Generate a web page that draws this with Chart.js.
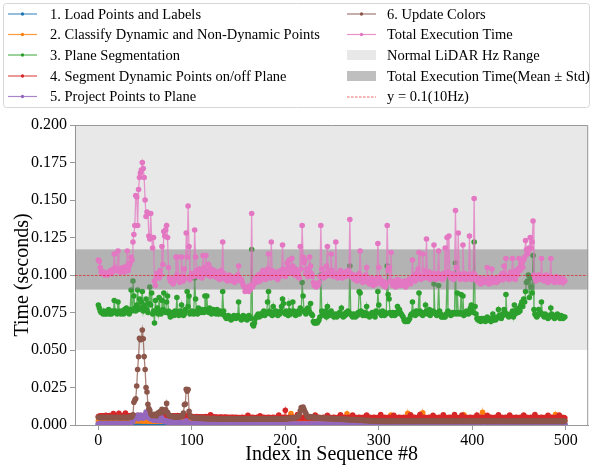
<!DOCTYPE html>
<html>
<head>
<meta charset="utf-8">
<script src="https://cdn.jsdelivr.net/npm/chart.js@4.4.1/dist/chart.umd.min.js"></script>
<style>html,body{margin:0;padding:0;background:#fff}</style>
</head>
<body>
<canvas id="chart_stageTiming" width="591" height="467"></canvas>
<script>
// per-frame timings in milliseconds, frame index 0..499
const LOAD_MS = [
.4,.5,.4,.4,.3,.4,.5,.4,.4,.3,.4,.4,.5,.4,.3,.4,.4,.5,.4,.4,.3,.4,.5,.4,.4,
.4,.3,.4,.5,.4,.4,.3,.4,.4,.5,.4,.6,.5,.7,.6,.8,.7,.6,.8,.7,.6,.7,.6,.5,.6,
.7,.6,.5,.6,.5,.4,.5,.4,.5,.4,.4,.5,.4,.4,.5,.4,.4,.3,.4,.5,.4,.4,.3,.4,.4,
.5,.4,.4,.3,.4,.4,.5,.4,.4,.3,.4,.5,.4,.4,.4,.3,.4,.5,.4,.4,.5,.4,.3,.4,.4,
.4,.3,.4,.4,.5,.4,.3,.4,.4,.3,.4,.5,.4,.4,.3,.4,.4,.5,.4,.3,.4,.4,.3,.4,.5,
.4,.4,.3,.4,.5,.4,.4,.3,.4,.4,.5,.4,.3,.4,.4,.3,.4,.5,.4,.4,.3,.4,.4,.5,.4,
.3,.4,.4,.5,.4,.3,.4,.4,.3,.4,.5,.4,.4,.3,.4,.4,.5,.4,.3,.4,.4,.3,.4,.5,.4,
.4,.3,.4,.4,.5,.4,.4,.3,.4,.5,.4,.3,.4,.4,.3,.4,.5,.4,.4,.3,.4,.4,.5,.4,.3,
.4,.5,.4,.3,.4,.4,.3,.4,.5,.4,.4,.3,.4,.4,.5,.4,.3,.4,.4,.3,.4,.5,.4,.4,.3,
.4,.4,.5,.4,.3,.4,.4,.3,.4,.5,.4,.4,.3,.4,.4,.5,.4,.3,.4,.4,.3,.4,.5,.4,.4,
.3,.4,.4,.5,.4,.3,.4,.4,.3,.4,.5,.4,.4,.3,.4,.4,.5,.4,.3,.4,.4,.3,.4,.5,.4,
.4,.3,.4,.4,.5,.4,.4,.3,.4,.5,.4,.3,.4,.4,.3,.4,.5,.4,.4,.3,.4,.4,.5,.4,.3,
.4,.5,.4,.3,.4,.4,.3,.4,.5,.4,.4,.3,.4,.4,.5,.4,.3,.4,.4,.3,.4,.5,.4,.4,.3,
.4,.4,.5,.4,.3,.4,.4,.3,.4,.5,.4,.4,.3,.4,.4,.5,.4,.3,.4,.4,.3,.4,.5,.4,.4,
.3,.4,.4,.5,.4,.3,.4,.4,.3,.4,.5,.4,.4,.3,.4,.4,.5,.4,.3,.4,.4,.3,.4,.5,.4,
.4,.3,.4,.4,.5,.4,.4,.3,.4,.5,.4,.3,.4,.4,.3,.4,.5,.4,.4,.3,.4,.4,.5,.4,.3,
.4,.5,.4,.3,.4,.4,.3,.4,.5,.4,.4,.3,.4,.4,.5,.4,.3,.4,.4,.3,.4,.5,.4,.4,.3,
.4,.4,.5,.4,.3,.4,.4,.3,.4,.5,.4,.4,.3,.4,.4,.5,.4,.3,.4,.4,.3,.4,.5,.4,.4,
.3,.4,.4,.5,.4,.3,.4,.4,.3,.4,.5,.4,.4,.3,.4,.4,.5,.4,.3,.4,.4,.3,.4,.5,.4,
.4,.3,.4,.4,.5,.4,.4,.3,.4,.5,.4,.3,.4,.4,.3,.4,.5,.4,.4,.3,.4,.4,.5,.4,.3
];
const CLASSIFY_MS = [
2.8,2.6,2.7,2.5,2.6,2.8,2.7,2.5,2.6,2.7,2.9,2.6,2.5,2.7,2.6,2.8,2.6,2.7,2.5,2.6,2.8,2.7,2.6,2.5,2.7,
2.6,2.8,2.7,2.5,2.6,2.7,2.9,2.6,2.5,2.7,2.8,3.0,2.9,3.1,2.8,3.0,2.9,3.2,2.8,3.0,2.9,3.1,2.8,2.7,2.9,
2.8,3.0,2.7,2.6,2.8,2.7,2.6,2.9,2.7,2.5,2.6,2.7,2.8,2.6,2.5,2.7,3.6,2.6,2.8,2.7,5.8,2.6,2.7,2.5,2.6,
2.7,2.5,2.6,2.8,2.6,2.5,2.7,2.6,2.8,2.5,2.6,2.7,5.2,2.6,2.5,2.7,2.6,2.8,2.6,2.7,2.5,2.6,2.8,2.7,2.6,
2.5,2.7,2.6,2.8,2.5,2.6,2.7,2.5,2.6,2.8,2.7,2.5,2.6,2.7,2.6,2.8,2.5,2.6,2.7,2.6,2.5,2.7,2.6,2.8,2.6,
2.7,2.5,2.6,2.8,2.7,2.6,2.5,2.7,2.6,2.8,2.5,2.6,2.7,2.5,2.6,2.7,2.8,2.6,2.5,2.7,2.6,2.5,2.7,2.6,2.8,
2.6,2.5,2.7,2.6,2.8,2.5,2.6,2.7,2.6,2.5,2.7,2.8,2.6,2.5,2.7,2.6,2.8,2.5,2.6,2.7,2.5,2.6,2.8,2.7,2.6,
2.5,2.7,2.6,2.8,2.6,2.5,2.7,2.6,2.8,2.5,2.6,2.7,2.6,2.5,2.8,2.7,2.6,2.5,2.7,2.6,2.8,2.5,2.6,2.7,2.6,
2.7,2.5,2.6,2.8,2.6,2.5,7.6,2.7,2.6,2.5,2.8,2.6,2.7,2.5,2.6,7.2,2.7,2.6,2.5,2.8,2.6,2.7,2.5,2.6,2.7,
2.6,2.8,2.5,2.6,2.7,2.6,2.5,2.7,2.8,2.6,2.5,2.7,2.6,2.8,2.5,2.6,2.7,2.5,2.6,2.8,2.7,2.6,2.5,2.7,2.6,
2.8,2.6,2.5,2.7,2.6,2.5,2.8,2.7,2.6,2.5,2.7,2.6,2.8,2.5,2.6,2.7,7.4,2.6,2.5,2.8,2.6,2.7,2.5,2.6,2.7,
2.6,2.5,2.7,2.8,2.6,2.5,2.7,2.6,2.8,2.5,2.6,2.7,2.6,2.5,2.8,2.7,2.6,2.5,2.7,2.6,2.8,2.5,2.6,2.7,2.6,
2.7,2.5,2.6,2.8,2.6,2.5,2.7,2.6,2.8,2.5,2.6,2.7,2.6,6.6,2.5,2.8,2.7,2.6,2.5,2.7,2.6,2.8,2.5,2.6,2.7,
2.6,2.5,2.7,2.8,2.6,2.5,7.8,2.6,2.8,2.5,2.6,2.7,2.6,2.5,2.8,2.7,2.6,2.5,2.7,2.6,2.8,2.5,8.2,2.7,2.6,
2.7,2.5,2.6,2.8,2.6,2.5,2.7,2.6,2.8,2.5,2.6,2.7,2.6,2.5,2.8,2.7,2.6,2.5,2.7,2.6,2.8,2.5,2.6,2.7,2.6,
2.6,2.5,2.7,2.8,2.6,2.5,2.7,2.6,2.8,2.5,2.6,2.7,2.6,2.5,2.8,2.7,6.8,2.5,2.7,2.6,2.8,2.5,2.6,2.7,2.6,
2.7,2.5,2.6,2.8,2.6,2.5,2.7,2.6,2.8,2.5,2.6,8.4,2.6,2.5,2.8,2.7,2.6,2.5,2.7,2.6,2.8,2.5,2.6,2.7,2.6,
2.6,2.5,2.7,2.8,2.6,2.5,2.7,2.6,2.8,2.5,2.6,2.7,2.6,2.5,2.8,2.7,2.6,2.5,2.7,2.6,2.8,2.5,2.6,2.7,2.6,
2.7,2.5,2.6,2.8,2.6,2.5,2.7,2.6,2.8,2.5,2.6,2.7,2.6,2.5,2.8,2.7,2.6,2.5,2.7,2.6,2.8,2.5,2.6,2.7,2.6,
2.6,2.5,2.7,2.8,2.6,2.5,2.7,2.6,2.8,2.5,2.6,2.7,2.6,2.5,7.0,2.7,2.6,2.5,2.7,2.6,2.8,2.5,2.6,2.7,2.6
];
const PLANE_SEG_MS = [
80,78,76,75,75,74,76,74,75,74,75,77,74,75,74,76,75,83,76,75,74,82,75,76,74,
75,76,74,77,75,78,76,75,74,77,90,76,96,86,78,76,80,90,77,84,78,82,89,76,80,
78,84,77,75,81,92,80,88,74,76,68,83,75,78,74,85,76,74,83,77,88,76,75,82,86,
76,74,72,73,75,74,73,76,75,85,74,73,76,74,80,75,73,74,77,76,89,79,86,74,75,
76,75,74,98,84,76,74,78,77,76,75,77,76,75,86,77,86,76,75,78,76,74,75,77,76,
75,74,77,75,74,76,75,74,89,76,73,72,71,72,73,71,72,70,71,72,73,72,71,72,73,
82,72,71,70,72,73,71,72,71,70,72,73,72,71,117,67,66,68,71,72,73,74,72,73,74,
73,75,76,73,74,75,82,89,76,74,75,73,79,74,75,76,74,73,75,74,76,79,84,81,75,
74,76,75,73,81,76,74,75,82,76,74,73,75,74,76,74,78,76,95,86,76,75,74,77,78,
76,75,81,74,73,69,68,68,69,68,69,70,72,100,76,74,75,73,76,72,79,75,73,74,76,
74,73,72,74,73,72,74,73,75,74,78,73,72,74,73,75,74,76,75,106,74,73,72,74,73,
72,74,73,75,89,88,76,74,73,74,75,73,79,74,73,72,74,73,75,74,73,72,76,75,89,
80,75,74,73,76,74,73,75,74,106,87,84,75,74,73,75,74,73,75,74,79,76,77,75,74,
73,72,70,69,69,70,69,70,71,73,74,82,75,74,73,76,74,75,88,76,74,75,73,74,75,
80,76,74,75,77,73,74,75,76,94,75,74,73,75,93,76,74,72,72,73,72,72,74,100,76,
75,74,73,74,75,74,75,108,74,88,75,74,75,87,74,86,73,75,74,76,75,74,75,78,80,
76,75,122,79,74,71,70,71,70,69,71,70,71,70,69,71,72,70,71,70,69,71,74,70,71,
70,71,72,77,73,72,71,74,73,77,75,87,74,73,72,73,74,73,76,72,80,74,76,77,75,
78,76,80,82,79,84,82,89,95,96,100,85,98,92,88,113,77,74,73,72,73,77,74,75,82,
74,73,72,74,73,72,71,73,72,78,74,73,72,71,73,72,74,73,72,71,73,72,71,72,72
];
const SEGMENT_MS = [
5.6,5.8,6.1,5.7,5.9,6.2,5.8,6.0,6.4,5.9,6.1,5.7,6.3,6.0,5.8,6.2,7.6,5.9,6.1,5.8,6.3,6.0,7.8,5.9,6.2,
6.0,5.8,6.4,6.1,7.9,5.9,6.2,6.0,5.8,6.3,6.1,5.9,6.4,6.0,6.2,5.8,6.1,6.5,5.9,6.2,6.0,5.8,6.3,6.1,5.9,
6.2,6.0,5.8,6.4,6.1,5.9,6.3,6.0,5.7,6.2,5.9,6.1,5.8,6.0,6.3,5.9,6.1,5.7,6.2,6.0,5.8,6.4,6.1,5.9,6.2,
6.0,5.8,6.3,6.1,5.9,6.2,6.0,5.7,6.1,5.9,6.3,6.0,5.8,6.2,5.9,6.1,5.8,6.0,6.4,5.9,6.1,5.7,6.2,6.0,5.8,
5.6,5.3,5.5,5.2,5.4,5.6,5.3,5.1,5.4,5.2,5.5,5.3,5.0,5.4,5.2,5.6,5.3,5.1,5.4,5.2,6.8,5.3,5.0,5.4,5.2,
5.1,5.3,5.0,5.2,4.9,5.1,5.3,5.0,5.2,4.8,5.1,5.3,5.0,4.9,5.2,5.0,4.8,5.1,4.9,5.2,5.0,4.8,5.1,4.9,5.0,
4.8,5.0,4.7,4.9,5.1,4.8,5.0,4.7,4.9,5.1,6.4,4.8,5.0,4.7,4.9,5.2,4.8,5.0,4.7,4.9,5.1,4.8,5.0,6.2,4.9,
4.7,4.9,5.1,4.8,5.0,4.7,4.9,5.2,4.8,5.0,4.7,4.9,5.1,4.8,5.0,4.7,4.9,5.1,6.6,4.8,5.0,4.7,4.9,5.1,4.8,
9.8,5.0,4.7,4.9,5.2,4.8,5.0,4.7,4.9,5.1,4.8,5.0,4.7,6.9,4.9,5.1,4.8,5.0,4.7,4.9,5.2,4.8,5.0,4.7,4.9,
5.1,4.8,5.0,4.7,4.9,5.1,4.8,6.7,5.0,4.7,4.9,5.2,4.8,5.0,4.7,4.9,5.1,4.8,5.0,4.7,6.5,4.9,5.1,4.8,5.0,
4.7,4.9,5.1,4.8,5.0,4.7,4.9,5.2,4.8,6.8,5.0,4.7,4.9,5.1,4.8,5.0,4.7,4.9,5.1,4.8,5.0,4.7,6.6,4.9,5.2,
4.8,5.0,4.7,4.9,5.1,4.8,5.0,4.7,4.9,5.1,4.8,5.0,6.7,4.7,4.9,5.2,4.8,5.0,4.7,4.9,5.1,4.8,5.0,4.7,4.9,
5.1,4.8,6.9,5.0,4.7,4.9,5.2,4.8,5.0,4.7,4.9,5.1,4.8,5.0,4.7,4.9,6.5,5.1,4.8,5.0,4.7,4.9,5.2,4.8,5.0,
4.7,4.9,5.1,4.8,5.0,4.7,4.9,5.1,4.8,6.8,5.0,4.7,4.9,5.2,4.8,5.0,4.7,4.9,5.1,6.9,4.8,5.0,4.7,4.9,5.1,
4.8,5.0,4.7,4.9,5.2,4.8,5.0,4.7,6.4,4.9,5.1,4.8,5.0,4.7,4.9,5.1,4.8,5.0,4.7,6.8,4.9,5.2,4.8,5.0,4.7,
4.9,5.1,4.8,5.0,4.7,4.9,7.0,5.1,4.8,5.0,4.7,4.9,5.2,4.8,6.6,5.0,4.7,4.9,5.1,4.8,5.0,4.7,4.9,5.1,4.8,
5.0,4.7,4.9,5.2,4.8,6.7,5.0,4.7,4.9,5.1,4.8,5.0,4.7,4.9,5.1,4.8,6.5,5.0,4.7,4.9,5.2,4.8,5.0,4.7,4.9,
5.1,4.8,5.0,6.8,4.7,4.9,5.1,4.8,5.0,4.7,4.9,5.2,4.8,5.0,4.7,6.6,4.9,5.1,4.8,5.0,4.7,4.9,5.1,4.8,5.0,
4.7,4.9,5.2,4.8,5.0,6.7,4.7,4.9,5.1,4.8,5.0,4.7,4.9,5.1,4.8,5.0,4.7,6.9,4.9,5.2,4.8,5.0,4.7,4.9,5.1,
4.8,5.0,4.7,4.9,5.1,4.8,6.5,5.0,4.7,4.9,5.2,4.8,5.0,4.7,4.9,5.1,4.8,5.0,6.6,4.7,4.9,5.1,4.8,5.0,4.7
];
const PROJECT_MS = [
.8,.7,.9,.8,.7,.8,.9,.7,.8,.8,.7,.9,.8,.7,.8,.9,.8,.7,.8,.9,.7,.8,.8,.7,.9,
.8,.7,.8,.9,.8,.7,.8,.9,.7,.8,1.2,1.8,2.6,5.2,6.0,4.8,5.6,6.4,4.2,5.8,6.6,5.0,6.2,4.6,5.4,
6.8,8.6,7.4,5.2,6.0,4.4,5.6,3.8,4.6,3.2,4.0,3.6,3.0,4.2,3.4,2.8,3.6,5.2,4.4,3.0,2.6,3.2,2.4,2.0,2.6,
2.2,1.8,2.4,2.0,1.6,2.2,1.8,1.5,2.0,1.6,1.4,1.8,2.6,1.5,1.3,1.6,1.4,1.8,2.2,2.8,1.5,1.3,1.2,1.1,1.0,
1.0,.9,.8,.9,.8,.7,.8,.7,.8,.7,.6,.7,.6,.7,.6,.5,.6,.5,.6,.5,.6,.5,.5,.6,.5,
.6,.5,.6,.5,.5,.6,.5,.6,.5,.5,.6,.5,.6,.5,.5,.6,.5,.6,.5,.5,.6,.5,.6,.5,.5,
.5,.6,.5,.5,.6,.5,.6,.5,.5,.6,.5,.6,.5,.5,.6,.5,.6,.5,.5,.6,.5,.6,.5,.5,.6,
.5,.5,.6,.5,.6,.5,.5,.6,.5,.6,.5,.5,.6,.5,.6,.5,.5,.6,.5,.6,.5,.5,.6,.5,.5,
.6,.5,.5,.6,.5,.6,.5,.5,.6,.5,.6,.5,.5,.6,.5,.6,.5,.5,.6,.5,.6,.5,.5,.6,.5,
.5,.6,.5,.6,.5,.5,.6,.5,.6,.5,.5,.6,.5,.6,.5,.5,.6,.5,.6,.5,.5,.6,.5,.5,.6,
.5,.6,.5,.5,.6,.5,.6,.5,.5,.6,.5,.6,.5,.5,.6,.5,.4,.5,.5,.4,.5,.4,.5,.4,.4,
.5,.4,.4,.5,.4,.4,.3,.4,.4,.3,.4,.3,.4,.3,.3,.4,.3,.4,.3,.3,.4,.3,.4,.3,.3,
.4,.3,.3,.4,.3,.4,.3,.3,.4,.3,.4,.3,.3,.4,.3,.4,.3,.3,.4,.3,.4,.3,.3,.4,.3,
.3,.4,.3,.3,.4,.3,.3,.4,.3,.4,.3,.3,.4,.3,.3,.4,.3,.4,.3,.3,.4,.3,.3,.4,.3,
.4,.3,.3,.4,.3,.4,.3,.3,.4,.3,.3,.4,.3,.4,.3,.3,.4,.3,.3,.4,.3,.4,.3,.3,.4,
.3,.3,.4,.3,.4,.3,.3,.4,.3,.3,.4,.3,.4,.3,.3,.4,.3,.3,.4,.3,.4,.3,.3,.4,.3,
.3,.4,.3,.3,.4,.3,.4,.3,.3,.4,.3,.3,.4,.3,.4,.3,.3,.4,.3,.3,.4,.3,.4,.3,.3,
.4,.3,.4,.3,.3,.4,.3,.3,.4,.3,.4,.3,.3,.4,.3,.3,.4,.3,.4,.3,.3,.4,.3,.3,.4,
.3,.3,.4,.3,.3,.4,.3,.4,.3,.3,.4,.3,.3,.4,.3,.4,.3,.3,.4,.3,.3,.4,.3,.4,.3,
.4,.3,.3,.4,.3,.3,.4,.3,.4,.3,.3,.4,.3,.3,.4,.3,.4,.3,.3,.4,.3,.3,.4,.3,.3
];
const COLORS_MS = [
5.2,5.0,4.8,5.1,4.9,5.0,5.2,4.8,5.0,4.9,5.1,4.8,5.0,5.2,4.9,5.0,4.8,5.1,4.9,5.0,5.2,4.8,5.0,4.9,5.1,
4.8,5.0,5.2,4.9,5.0,4.8,5.1,4.9,5.0,5.3,5.3,5.6,6.8,15.2,16.7,17.5,26.0,37.0,45.5,57.8,56.8,57.3,63.3,57.5,45.6,
37.0,25.0,22.0,13.8,11.0,9.8,7.5,6.8,6.2,6.5,7.2,6.4,6.0,7.5,8.2,7.8,9.0,8.4,10.5,9.2,8.6,9.8,10.2,14.4,8.5,
6.8,6.2,5.8,6.0,5.5,5.8,5.4,5.6,5.2,5.5,5.3,5.6,5.4,5.8,5.9,6.2,8.0,13.5,14.0,23.8,22.5,23.6,9.2,6.4,5.6,
5.0,4.8,4.6,4.9,4.7,4.5,4.8,4.6,4.4,4.7,4.5,4.3,4.6,4.4,4.2,4.5,4.3,4.1,4.4,4.2,4.0,4.3,4.1,4.4,4.2,
4.0,4.3,4.1,3.9,4.2,4.0,4.3,4.1,3.9,4.2,4.0,3.8,4.1,3.9,4.2,4.0,3.8,4.1,3.9,4.0,4.2,3.9,4.1,3.8,4.0,
4.2,3.9,4.1,3.8,4.0,4.2,3.9,4.1,3.8,4.0,4.2,3.9,4.1,3.8,4.0,4.3,3.9,4.1,3.8,4.0,4.2,3.9,4.1,3.8,4.0,
4.2,3.9,4.1,3.8,4.0,4.2,3.9,4.1,3.8,4.0,4.2,3.9,4.1,3.8,4.0,4.2,3.9,4.1,3.8,4.0,4.2,3.9,4.1,3.8,4.0,
4.3,4.1,4.4,4.2,4.5,4.3,4.6,4.4,4.8,4.6,5.0,4.8,5.2,5.5,5.8,7.2,9.5,11.6,11.0,12.0,10.4,8.8,7.6,6.2,5.4,
5.0,5.6,5.2,4.8,5.4,5.0,4.7,5.2,4.9,4.6,5.0,4.7,4.5,4.8,4.6,4.4,4.7,4.5,4.3,4.6,4.4,4.2,4.5,4.3,4.1,
4.4,4.2,4.0,4.3,4.1,3.9,4.2,4.0,3.8,4.1,3.9,3.7,4.0,3.8,3.6,3.9,3.7,3.5,3.8,3.6,3.4,3.7,3.5,3.3,3.6,
3.4,3.2,3.5,3.3,3.1,3.4,3.2,3.0,3.3,3.1,2.9,3.2,3.0,2.8,3.1,2.9,2.7,3.0,2.8,2.6,2.9,2.7,2.5,2.8,2.6,
2.5,2.7,2.4,2.6,2.8,2.5,2.3,2.6,2.4,2.7,2.5,2.3,2.6,2.8,2.4,2.5,2.7,2.3,2.6,2.4,2.5,2.8,2.6,2.3,2.5,
2.7,2.4,2.6,2.5,2.3,2.7,2.5,2.4,2.6,2.8,2.4,2.5,2.3,2.6,2.7,2.4,2.5,2.6,2.3,2.7,2.5,2.4,2.6,2.8,2.5,
2.4,2.6,2.3,2.5,2.7,2.4,2.6,2.5,2.3,2.6,2.8,2.4,2.5,2.7,2.3,2.6,2.4,2.5,2.8,2.6,2.3,2.5,2.7,2.4,2.6,
2.5,2.3,2.6,2.8,2.4,2.5,2.7,2.3,2.6,2.4,2.5,2.8,2.6,2.3,2.5,2.7,2.4,2.6,2.5,2.3,2.7,2.5,2.4,2.6,2.8,
2.4,2.5,2.3,2.6,2.7,2.4,2.5,2.6,2.3,2.7,2.5,2.4,2.6,2.8,2.5,2.4,2.6,2.3,2.5,2.7,2.4,2.6,2.5,2.3,2.6,
2.8,2.4,2.5,2.7,2.3,2.6,2.4,2.5,2.8,2.6,2.3,2.5,2.7,2.4,2.6,2.5,2.3,2.7,2.5,2.4,2.6,2.8,2.4,2.5,2.3,
2.6,2.7,2.4,2.5,2.6,2.3,2.7,2.5,2.4,2.6,2.8,2.5,2.4,2.6,2.3,2.5,2.7,2.4,2.6,2.5,2.3,2.6,2.8,2.4,2.5,
2.7,2.3,2.6,2.4,2.5,2.8,2.6,2.3,2.5,2.7,2.4,2.6,2.5,2.3,2.7,2.5,2.4,2.6,2.8,2.5,2.4,2.6,2.3,2.5,2.6
];
const TOTAL_MS = [
110,109,105,102,101,101,102,100,101,101,100,102,101,103,101,102,104,114,105,103,104,116,103,102,104,
102,105,103,102,104,106,116,103,106,108,112,110,122,127,133,153,152,133,157,165,168,170,175,171,165,
150,139,142,141,126,124,141,125,118,125,96,93,99,101,100,98,103,100,119,107,129,126,130,133,125,
105,98,96,97,95,94,96,98,112,100,112,98,95,97,112,99,96,104,98,128,112,146,119,97,100,
101,100,99,130,112,103,101,99,104,100,102,98,113,105,101,113,103,100,107,102,99,104,101,100,103,
99,102,98,101,100,97,103,99,122,101,98,97,99,96,98,100,97,99,96,98,97,95,99,97,100,
106,98,96,97,95,93,92,89,91,90,92,89,90,93,141,92,94,96,98,95,97,100,99,96,101,
98,103,100,99,97,101,104,114,100,98,122,103,99,101,100,98,102,97,101,99,103,100,120,104,101,
99,103,108,105,110,101,104,111,106,103,100,104,102,99,101,98,119,104,133,112,108,110,101,104,99,
104,112,106,101,99,95,93,94,92,94,93,95,99,133,104,100,98,101,99,106,119,103,100,101,114,
103,99,101,100,122,99,98,101,100,103,99,98,101,100,102,99,101,103,100,137,101,99,98,100,97,
99,98,96,100,101,116,99,97,95,98,96,100,105,97,95,94,96,98,95,93,96,97,94,98,121,
105,98,95,94,96,93,95,92,94,133,103,105,96,115,95,93,94,96,92,94,97,95,93,96,94,
93,95,94,96,92,94,95,97,96,94,98,110,97,99,96,101,98,104,115,100,97,99,114,98,103,
101,124,100,98,102,97,99,101,98,120,100,97,99,101,116,98,100,99,97,101,98,118,100,125,102,
126,100,98,99,101,97,100,143,105,99,128,101,97,99,100,120,98,101,97,99,100,98,126,100,97,
99,101,151,100,97,96,98,95,97,94,96,98,95,97,96,95,105,97,94,96,98,104,95,97,96,
98,95,97,96,99,97,98,101,97,106,100,111,98,99,97,100,102,98,111,101,99,97,103,100,104,
111,103,106,108,105,110,112,123,117,114,116,118,125,118,122,136,100,98,96,97,99,100,98,97,111,
99,97,96,98,100,97,95,98,99,111,97,96,98,95,97,99,96,98,95,97,96,98,95,97,96
];
const SEQ_INDEX = [...Array(TOTAL_MS.length).keys()];

const LIDAR_RANGE_S = [0.05, 0.2];   // normal LiDAR rate band
const TOTAL_MEAN_S = 0.1037;
const TOTAL_STD_S = 0.0134;
const THRESHOLD_S = 0.1;             // 10 Hz
const X_TICKS = [0, 100, 200, 300, 400, 500];
const Y_TICKS = [0, 0.025, 0.05, 0.075, 0.1, 0.125, 0.15, 0.175, 0.2];

const SERIF = "'Liberation Serif', 'DejaVu Serif', serif";

const SERIES = [
    { label: '1. Load Points and Labels', color: '31,119,180', values: LOAD_MS },
    { label: '2. Classify Dynamic and Non-Dynamic Points', color: '255,127,14', values: CLASSIFY_MS },
    { label: '3. Plane Segmentation', color: '44,160,44', values: PLANE_SEG_MS },
    { label: '4. Segment Dynamic Points on/off Plane', color: '214,39,40', values: SEGMENT_MS },
    { label: '5. Project Points to Plane', color: '148,103,189', values: PROJECT_MS },
    { label: '6. Update Colors', color: '140,86,75', values: COLORS_MS },
    { label: 'Total Execution Time', color: '227,119,194', values: TOTAL_MS }
];
const TOTAL_INDEX = 6;

const datasets = SERIES.map((s, i) => ({
    label: s.label,
    data: s.values.map((v, k) => ({ x: SEQ_INDEX[k], y: v / 1000 })),
    borderColor: 'rgba(' + s.color + ',0.75)',
    backgroundColor: 'rgb(' + s.color + ')',
    pointBackgroundColor: 'rgb(' + s.color + ')',
    pointBorderWidth: 0,
    pointRadius: 2.8,
    pointHoverRadius: 0,
    borderWidth: 1.3,
    tension: 0,
    order: SERIES.length - 1 - i
}));

const bandPlugin = {
    id: 'bands',
    beforeDatasetsDraw(chart) {
        const { ctx, chartArea: a, scales: { y } } = chart;
        const top = y.getPixelForValue(LIDAR_RANGE_S[1]);
        const bot = y.getPixelForValue(LIDAR_RANGE_S[0]);
        ctx.save();
        ctx.fillStyle = 'rgba(128,128,128,0.18)';
        ctx.fillRect(a.left, top, a.right - a.left, bot - top);
        ctx.restore();
    },
    beforeDatasetDraw(chart, args) {
        if (args.index !== TOTAL_INDEX) return;
        const { ctx, chartArea: a, scales: { y } } = chart;
        const top = y.getPixelForValue(TOTAL_MEAN_S + TOTAL_STD_S);
        const bot = y.getPixelForValue(TOTAL_MEAN_S - TOTAL_STD_S);
        ctx.save();
        ctx.fillStyle = 'rgba(128,128,128,0.5)';
        ctx.fillRect(a.left, top, a.right - a.left, bot - top);
        ctx.restore();
    },
    afterDatasetsDraw(chart) {
        const { ctx, chartArea: a, scales: { y } } = chart;
        const py = Math.round(y.getPixelForValue(THRESHOLD_S)) + 0.5;
        ctx.save();
        ctx.strokeStyle = 'rgba(230,0,0,0.75)';
        ctx.lineWidth = 0.8;
        ctx.setLineDash([2.5, 1.5]);
        ctx.beginPath();
        ctx.moveTo(a.left, py);
        ctx.lineTo(a.right, py);
        ctx.stroke();
        ctx.setLineDash([]);
        // top and right frame lines
        ctx.strokeStyle = '#999';
        ctx.lineWidth = 1;
        ctx.beginPath();
        ctx.moveTo(a.left, a.top + 0.5);
        ctx.lineTo(a.right - 0.5, a.top + 0.5);
        ctx.lineTo(a.right - 0.5, a.bottom);
        ctx.stroke();
        ctx.restore();
    }
};

const LEGEND_ROW_Y = [14, 34.5, 55, 76, 96.5];
const legendPlugin = {
    id: 'twoColumnLegend',
    afterDraw(chart) {
        const c = chart.ctx;
        const items = [
            ...SERIES.map(s => ({ kind: 'line', label: s.label, color: s.color })),
            { kind: 'patch', label: 'Normal LiDAR Hz Range', fill: 'rgba(128,128,128,0.18)' },
            { kind: 'patch', label: 'Total Execution Time(Mean \u00b1 Std)', fill: 'rgba(128,128,128,0.5)' },
            { kind: 'dash', label: 'y = 0.1(10Hz)' }
        ];
        c.save();
        c.beginPath();
        c.roundRect(3.5, 3.5, 586, 104, 3);
        c.fillStyle = 'rgba(255,255,255,0.8)';
        c.fill();
        c.strokeStyle = '#d6d6d6';
        c.lineWidth = 1;
        c.stroke();
        c.font = '14.5px ' + SERIF;
        c.textBaseline = 'middle';
        c.textAlign = 'left';
        items.forEach((it, k) => {
            const col = Math.floor(k / 5), row = k % 5;
            const x0 = col ? 347 : 8, x1 = x0 + 29, y = LEGEND_ROW_Y[row];
            if (it.kind === 'line') {
                c.strokeStyle = 'rgba(' + it.color + ',0.8)';
                c.lineWidth = 1.2;
                c.beginPath(); c.moveTo(x0, y); c.lineTo(x1, y); c.stroke();
                c.fillStyle = 'rgb(' + it.color + ')';
                c.beginPath(); c.arc((x0 + x1) / 2, y, 1.7, 0, Math.PI * 2); c.fill();
            } else if (it.kind === 'patch') {
                c.fillStyle = it.fill;
                c.fillRect(x0, y - 5, x1 - x0, 10);
            } else {
                c.strokeStyle = 'rgba(230,0,0,0.75)';
                c.lineWidth = 0.8;
                c.setLineDash([2.5, 1.5]);
                c.beginPath(); c.moveTo(x0, y + 0.5); c.lineTo(x1, y + 0.5); c.stroke();
                c.setLineDash([]);
            }
            c.fillStyle = '#000';
            c.fillText(it.label, col ? 387 : 50, y + 1);
        });
        c.restore();
    }
};

const chart_stageTiming = new Chart(document.getElementById('chart_stageTiming'), {
    type: 'line',
    data: { datasets: datasets },
    options: {
        animation: false,
        responsive: false,
        events: [],
        layout: { padding: { top: 125, right: 1, left: 0, bottom: 0 } },
        plugins: {
            legend: { display: false },
            tooltip: { enabled: false }
        },
        scales: {
            x: {
                type: 'linear',
                min: -25,
                max: 524,
                afterBuildTicks: s => { s.ticks = X_TICKS.map(v => ({ value: v })); },
                afterFit: s => { s.height = 42; },
                ticks: { font: { family: SERIF, size: 16 }, color: '#000', padding: 1, maxRotation: 0, autoSkip: false },
                grid: { drawOnChartArea: false, drawTicks: true, tickLength: 5, color: '#999' },
                border: { display: true, color: '#999' },
                title: { display: true, text: 'Index in Sequence #8', color: '#000',
                         font: { family: SERIF, size: 20 }, padding: { top: 0, bottom: 0 } }
            },
            y: {
                type: 'linear',
                min: 0,
                max: 0.2,
                afterBuildTicks: s => { s.ticks = Y_TICKS.map(v => ({ value: v })); },
                afterFit: s => { s.width = 75; },
                ticks: { font: { family: SERIF, size: 16 }, color: '#000', padding: 3,
                         callback: v => v.toFixed(3), autoSkip: false },
                grid: { drawOnChartArea: false, drawTicks: true, tickLength: 5, color: '#999' },
                border: { display: true, color: '#999' },
                title: { display: true, text: 'Time (seconds)', color: '#000',
                         font: { family: SERIF, size: 20 }, padding: { top: 11, bottom: 0 } }
            }
        }
    },
    plugins: [bandPlugin, legendPlugin]
});
</script>
</body>
</html>
